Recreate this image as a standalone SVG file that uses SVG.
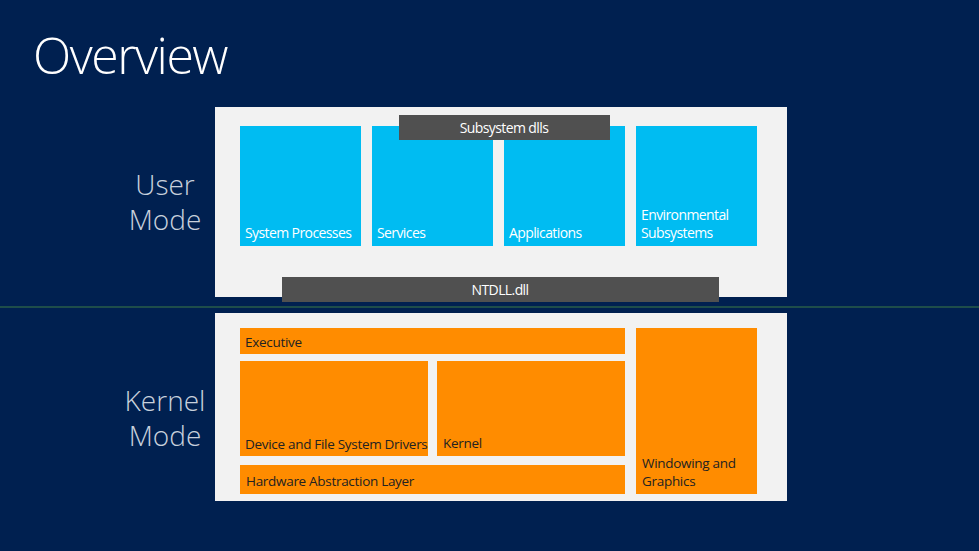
<svg xmlns="http://www.w3.org/2000/svg" width="979" height="551" viewBox="0 0 979 551">
<style>
.t{font-family:"Open Sans","Liberation Sans",sans-serif}
.blue{fill:#00bcf2}
.org{fill:#ff8c00}
.bar{fill:#505050}
.panel{fill:#f2f2f2}
.wl{fill:#ffffff;font-size:14px;letter-spacing:-0.6px}
.dl{fill:#222;font-size:13.5px;letter-spacing:-0.3px}
.mode{fill:#c8d0dc;font-size:28px;font-weight:300;text-anchor:middle}
</style>
<rect width="979" height="551" fill="#002050"/>
<text class="t" x="33" y="74" fill="#fff" font-size="50" font-weight="300" letter-spacing="-1.5">Overview</text>
<g id="user-mode-label"><text class="t mode" x="165" y="195">User</text><text class="t mode" x="165" y="230">Mode</text></g>
<g id="kernel-mode-label"><text class="t mode" x="165" y="411">Kernel</text><text class="t mode" x="165" y="446">Mode</text></g>
<g id="user-panel"><rect class="panel" x="215" y="107" width="572" height="190"/></g>
<g id="system-processes"><rect class="blue" x="240" y="126" width="121" height="120"/><text class="t wl" x="245" y="238">System Processes</text></g>
<g id="services"><rect class="blue" x="372" y="126" width="121" height="120"/><text class="t wl" x="377" y="238">Services</text></g>
<g id="applications"><rect class="blue" x="504" y="126" width="121" height="120"/><text class="t wl" x="509" y="238">Applications</text></g>
<g id="environmental-subsystems"><rect class="blue" x="636" y="126" width="121" height="120"/><text class="t wl" x="641" y="220">Environmental</text><text class="t wl" x="641" y="238">Subsystems</text></g>
<g id="subsystem-dlls"><rect class="bar" x="399" y="115" width="211" height="25"/><text class="t wl" x="504" y="133" text-anchor="middle">Subsystem dlls</text></g>
<g id="ntdll"><rect class="bar" x="282" y="277" width="437" height="25"/><text class="t wl" x="500" y="295" text-anchor="middle">NTDLL.dll</text></g>
<g id="connectors"><line x1="0" y1="307" x2="979" y2="307" stroke="#3d7a45" stroke-width="1.2"/></g>
<g id="kernel-panel"><rect class="panel" x="215" y="313" width="572" height="188"/></g>
<g id="executive"><rect class="org" x="240" y="328" width="385" height="26"/><text class="t dl" x="245" y="347">Executive</text></g>
<g id="drivers"><rect class="org" x="240" y="361" width="188" height="95"/><text class="t dl" x="245" y="449" font-size="12">Device and File System Drivers</text></g>
<g id="kernel"><rect class="org" x="437" y="361" width="188" height="95"/><text class="t dl" x="443" y="448">Kernel</text></g>
<g id="hal"><rect class="org" x="240" y="465" width="385" height="29"/><text class="t dl" x="246" y="486">Hardware Abstraction Layer</text></g>
<g id="windowing"><rect class="org" x="636" y="328" width="121" height="166"/><text class="t dl" x="642" y="468">Windowing and</text><text class="t dl" x="642" y="486">Graphics</text></g>
</svg>
